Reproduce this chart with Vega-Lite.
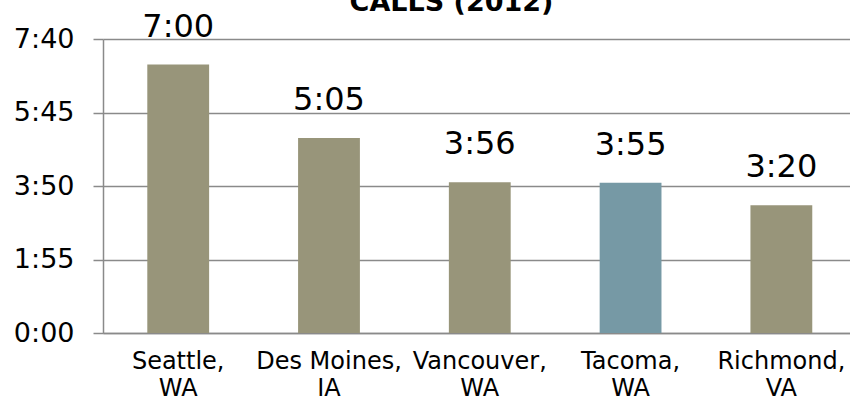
{
  "$schema": "https://vega.github.io/schema/vega-lite/v6.json",
  "autosize": {"type": "none"},
  "width": 747,
  "height": 294,
  "padding": {"left": 103, "top": 39, "right": 0, "bottom": 71},
  "background": "white",
  "config": {
    "view": {"stroke": null},
    "font": "DejaVu Sans"
  },
  "title": {
    "text": "CALLS (2012)",
    "font": "DejaVu Sans",
    "fontSize": 27,
    "fontWeight": "bold",
    "color": "black",
    "anchor": "middle",
    "baseline": "alphabetic",
    "offset": -27,
    "dx": -25
  },
  "data": {
    "values": [
      {"city": "Seattle, WA", "seconds": 420, "label": "7:00", "highlight": "no"},
      {"city": "Des Moines, IA", "seconds": 305, "label": "5:05", "highlight": "no"},
      {"city": "Vancouver, WA", "seconds": 236, "label": "3:56", "highlight": "no"},
      {"city": "Tacoma, WA", "seconds": 235, "label": "3:55", "highlight": "yes"},
      {"city": "Richmond, VA", "seconds": 200, "label": "3:20", "highlight": "no"}
    ]
  },
  "encoding": {
    "x": {
      "field": "city",
      "type": "nominal",
      "sort": null,
      "scale": {"paddingInner": 0.59, "paddingOuter": 0.272, "align": 0.54},
      "axis": {
        "title": null,
        "labelAngle": 0,
        "labelExpr": "[split(datum.label, ', ')[0] + ',', split(datum.label, ', ')[1]]",
        "labelFont": "DejaVu Sans",
        "labelFontSize": 24,
        "labelColor": "black",
        "labelLineHeight": 27,
        "labelPadding": 16,
        "ticks": false,
        "domainColor": "#8a8a8a",
        "domainWidth": 1.5,
        "labelLimit": 300
      }
    },
    "y": {
      "field": "seconds",
      "type": "quantitative",
      "scale": {"domain": [0, 460], "nice": false}
    }
  },
  "layer": [
    {
      "mark": {"type": "bar"},
      "encoding": {
        "y": {
          "field": "seconds",
          "type": "quantitative",
          "axis": {
            "title": null,
            "values": [0, 115, 230, 345, 460],
            "labelExpr": "floor(datum.value/60) + ':' + (datum.value % 60 < 10 ? '0' : '') + (datum.value % 60)",
            "labelFont": "DejaVu Sans",
            "labelFontSize": 27,
            "labelColor": "black",
            "labelPadding": 19,
            "tickSize": 10,
            "tickColor": "#8a8a8a",
            "tickWidth": 1.5,
            "domainColor": "#8a8a8a",
            "domainWidth": 1.5,
            "grid": true,
            "gridColor": "#8a8a8a",
            "gridWidth": 1.5
          }
        },
        "color": {
          "field": "highlight",
          "type": "nominal",
          "scale": {"domain": ["no", "yes"], "range": ["#98957a", "#7699a5"]},
          "legend": null
        }
      }
    },
    {
      "mark": {"type": "text", "baseline": "alphabetic", "dy": -28, "fontSize": 32, "font": "DejaVu Sans", "color": "black"},
      "encoding": {
        "text": {"field": "label"}
      }
    }
  ]
}
